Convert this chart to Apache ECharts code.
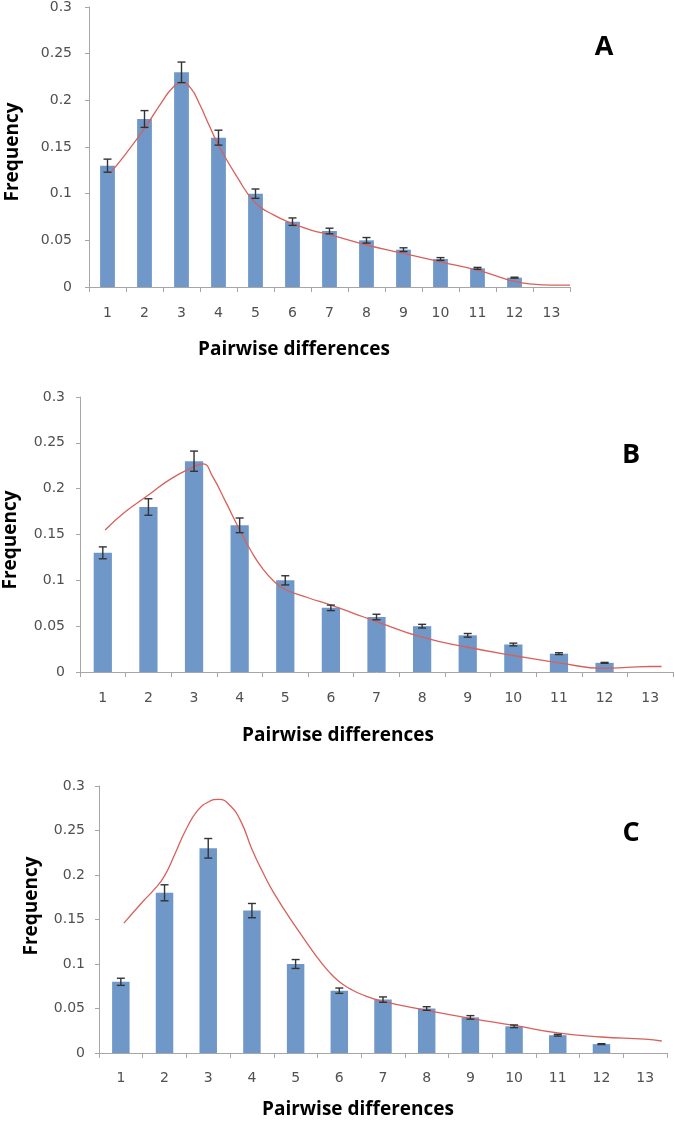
<!DOCTYPE html>
<html>
<head>
<meta charset="utf-8">
<script src="https://cdn.jsdelivr.net/npm/echarts@6/dist/echarts.min.js"></script>
<style>
html,body{margin:0;padding:0;background:#fff;}
#chart{width:675px;height:1121px;}
</style>
</head>
<body>
<div id="chart"></div>
<script>
// ---- data ----
var categories = ['1','2','3','4','5','6','7','8','9','10','11','12','13'];
var barsA = [0.13,0.18,0.23,0.16,0.10,0.07,0.06,0.05,0.04,0.03,0.02,0.01,0];
var barsB = [0.13,0.18,0.23,0.16,0.10,0.07,0.06,0.05,0.04,0.03,0.02,0.01,0];
var barsC = [0.08,0.18,0.23,0.16,0.10,0.07,0.06,0.05,0.04,0.03,0.02,0.01,0];
var errA = [0.007,0.009,0.011,0.008,0.005,0.004,0.003,0.003,0.002,0.0015,0.001,0.0005,null];
var errB = [0.0065,0.009,0.011,0.008,0.005,0.003,0.003,0.002,0.002,0.0015,0.001,0.0005,null];
var errC = [0.004,0.009,0.011,0.008,0.005,0.003,0.003,0.002,0.002,0.0015,0.001,0.0005,null];

var curveAx = [1.07,1.5,2,2.5,2.75,3,3.25,3.5,3.75,4,4.5,5,5.5,6,6.5,7,8,9,10,11,11.5,12,12.5,13,13.5];
var curveAy = [0.122,0.143,0.170,0.200,0.213,0.219,0.213,0.195,0.173,0.152,0.118,0.090,0.077,0.068,0.061,0.056,0.045,0.036,0.027,0.018,0.012,0.006,0.003,0.002,0.002];
var curveBx = [1.05,1.5,2,2.5,3,3.2,3.4,3.7,4,4.25,4.5,4.75,5,5.5,6,6.5,7,8,9,10,11,12,12.5,13,13.25];
var curveBy = [0.155,0.175,0.193,0.211,0.224,0.227,0.214,0.185,0.155,0.132,0.113,0.099,0.090,0.081,0.073,0.064,0.055,0.038,0.027,0.018,0.010,0.004,0.005,0.006,0.006];
var curveCx = [1.07,1.5,1.75,2,2.25,2.5,2.75,3,3.25,3.5,3.75,4,4.25,4.5,5,5.5,5.75,6,6.25,6.5,7,8,9,10,11,12,13,13.38];
var curveCy = [0.146,0.170,0.183,0.199,0.225,0.252,0.272,0.282,0.285,0.278,0.260,0.229,0.203,0.180,0.142,0.107,0.092,0.080,0.072,0.066,0.058,0.048,0.039,0.031,0.0225,0.018,0.0155,0.0135];

var xTitle = 'Pairwise differences';
var yTitle = 'Frequency';
var panelLetters = ['A','B','C'];

// ---- layout ----
var grids = [
  {left:89, right:105, top:7, bottom:834},
  {left:80, right:2, top:397, bottom:449},
  {left:99, right:8, top:786, bottom:68}
];
var yLabelMargin = [17,15,14];
var xLabelMargin = [19,19,18];
var barsAll = [barsA,barsB,barsC];
var errAll = [errA,errB,errC];
var curvesAll = [[curveAx,curveAy],[curveBx,curveBy],[curveCx,curveCy]];

var axisColor = '#a6a6a6';
var labelColor = '#505050';
var barColor = '#6f98c9';
var lineColor = '#d9605a';

var xAxes = [], yAxes = [], series = [];
grids.forEach(function(g, i){
  xAxes.push({
    type:'category', gridIndex:i, data:categories,
    boundaryGap:true,
    axisLine:{show:true, lineStyle:{color:axisColor, width:1}},
    axisTick:{show:true, alignWithLabel:false, length:5, lineStyle:{color:axisColor}},
    axisLabel:{color:labelColor, fontFamily:'DejaVu Sans', fontSize:14, margin:xLabelMargin[i]},
    splitLine:{show:false}
  });
  xAxes.push({
    type:'value', gridIndex:i, min:0.5, max:13.5, show:false
  });
  yAxes.push({
    type:'value', gridIndex:i, min:0, max:0.3, interval:0.05,
    axisLine:{show:true, lineStyle:{color:axisColor, width:1}},
    axisTick:{show:true, length:4, lineStyle:{color:axisColor}},
    axisLabel:{color:labelColor, fontFamily:'DejaVu Sans', fontSize:14, margin:yLabelMargin[i],
      formatter:function(v){ return String(parseFloat(v.toFixed(2))); }},
    splitLine:{show:false}
  });
  series.push({
    type:'bar', xAxisIndex:2*i, yAxisIndex:i, data:barsAll[i],
    barWidth:'40%', itemStyle:{color:barColor}, silent:true, z:2
  });
  var ed = [];
  barsAll[i].forEach(function(v, k){
    var e = errAll[i][k];
    if (e !== null && e !== undefined) ed.push([k, v - e, v + e]);
  });
  series.push({
    type:'custom', xAxisIndex:2*i, yAxisIndex:i, data:ed, z:4, silent:true,
    renderItem:function(params, api){
      var x = api.value(0);
      var lo = api.coord([x, api.value(1)]);
      var hi = api.coord([x, api.value(2)]);
      var hw = 4;
      var st = {stroke:'#333333', lineWidth:1.4};
      return {type:'group', children:[
        {type:'line', shape:{x1:lo[0], y1:lo[1], x2:hi[0], y2:hi[1]}, style:st},
        {type:'line', shape:{x1:lo[0]-hw, y1:lo[1], x2:lo[0]+hw, y2:lo[1]}, style:st},
        {type:'line', shape:{x1:hi[0]-hw, y1:hi[1], x2:hi[0]+hw, y2:hi[1]}, style:st}
      ]};
    }
  });
  var cx = curvesAll[i][0], cy = curvesAll[i][1];
  var pts = cx.map(function(x, k){ return [x, cy[k]]; });
  series.push({
    type:'line', xAxisIndex:2*i+1, yAxisIndex:i, data:pts, smooth:0.5,
    showSymbol:false, symbol:'none', silent:true, z:3,
    lineStyle:{color:lineColor, width:1.3}
  });
});

var titleFont = 'bold 19px "Open Sans"';
var graphics = [];
var xTitlePos = [[294,350],[338,736],[358,1110]];
var yTitlePos = [[13,152],[11,540],[32,906]];
var letterPos = [[604,47],[631,455],[631,833]];
for (var i = 0; i < 3; i++) {
  graphics.push({type:'text', x:xTitlePos[i][0], y:xTitlePos[i][1],
    style:{text:xTitle, font:titleFont, fill:'#000', textAlign:'center', textVerticalAlign:'middle'}});
  graphics.push({type:'text', x:yTitlePos[i][0], y:yTitlePos[i][1], rotation:Math.PI/2,
    style:{text:yTitle, font:titleFont, fill:'#000', textAlign:'center', textVerticalAlign:'middle'}});
  graphics.push({type:'text', x:letterPos[i][0], y:letterPos[i][1],
    style:{text:panelLetters[i], font:'bold 27px "Open Sans"', fill:'#000', textAlign:'center', textVerticalAlign:'middle'}});
}

var chart = echarts.init(document.getElementById('chart'), null, {renderer:'canvas'});
chart.setOption({
  animation:false,
  backgroundColor:'#ffffff',
  grid:grids,
  xAxis:xAxes,
  yAxis:yAxes,
  series:series,
  graphic:graphics
});
</script>
</body>
</html>
